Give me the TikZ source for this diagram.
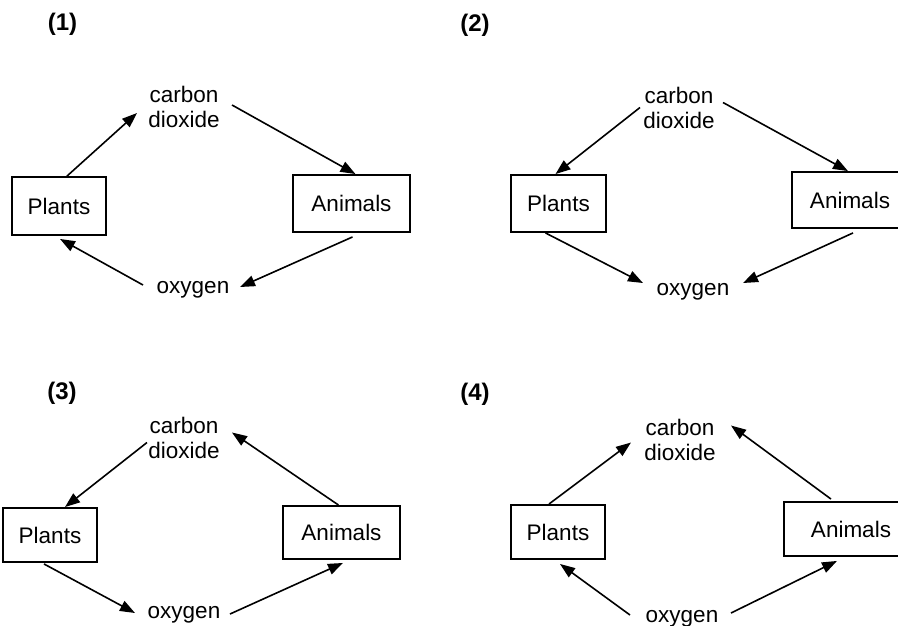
\documentclass[tikz,border=0pt]{standalone}
\usepackage{fontspec}
\setmainfont{Liberation Sans}
\usetikzlibrary{arrows.meta}
\begin{document}
\begin{tikzpicture}[x=1pt,y=-1pt,
  box/.style={draw,line width=1.9pt,inner sep=0pt,font=\fontsize{22.5}{25}\selectfont},
  lbl/.style={font=\fontsize{24}{28}\selectfont\bfseries},
  txt/.style={font=\fontsize{22.5}{25}\selectfont,align=center,inner sep=0pt},
  arr/.style={-{Triangle[length=15pt,width=11pt]},line width=1.6pt}]
\useasboundingbox (0,0) rectangle (898,625);
% (1)
\node[lbl] (L1) at (62.5,24.5) {(1)};
\node[txt] (C1) at (184,107) {carbon\\dioxide};
\node[box,minimum width=94pt,minimum height=58pt] (P1) at (59,206) {Plants};
\node[box,minimum width=117pt,minimum height=57pt] (A1) at (351.5,203.5) {Animals};
\node[txt,anchor=base] (O1) at (193,293) {oxygen};
\draw[arr] ([shift={(8,0)}]P1.north) -- ([shift={(-47,6)}]C1.center);
\draw[arr] ([shift={(48,-2)}]C1.center) -- ([shift={(4,0)}]A1.north);
\draw[arr] ([shift={(1,4)}]A1.south) -- ([shift={(47,-6)}]O1.base);
\draw[arr] ([shift={(-50,-8)}]O1.base) -- ([shift={(1,3)}]P1.south);
% (2)
\node[lbl] (L2) at (475,25) {(2)};
\node[txt] (C2) at (679,107.5) {carbon\\dioxide};
\node[box,minimum width=95pt,minimum height=57pt] (P2) at (558.5,203.5) {Plants};
\node[box,minimum width=116pt,minimum height=56pt] (A2) at (850,200) {Animals};
\node[txt,anchor=base] (O2) at (693,295) {oxygen};
\draw[arr] ([shift={(-39,0)}]C2.center) -- ([shift={(-3,0)}]P2.north);
\draw[arr] ([shift={(44,-5)}]C2.center) -- ([shift={(-2,0)}]A2.north);
\draw[arr] ([shift={(-13,0)}]P2.south) -- ([shift={(-50,-12)}]O2.base);
\draw[arr] ([shift={(3,4)}]A2.south) -- ([shift={(50,-12)}]O2.base);
% (3)
\node[lbl] (L3) at (62,393) {(3)};
\node[txt] (C3) at (184,437.5) {carbon\\dioxide};
\node[box,minimum width=94pt,minimum height=54pt] (P3) at (50,535) {Plants};
\node[box,minimum width=117pt,minimum height=53pt] (A3) at (341.5,532.5) {Animals};
\node[txt,anchor=base] (O3) at (184,618) {oxygen};
\draw[arr] ([shift={(-37,5)}]C3.center) -- ([shift={(15,0)}]P3.north);
\draw[arr] ([shift={(-3,0)}]A3.north) -- ([shift={(48,-5)}]C3.center);
\draw[arr] ([shift={(-6,1)}]P3.south) -- ([shift={(-49,-5)}]O3.base);
\draw[arr] ([shift={(46,-4)}]O3.base) -- ([shift={(1.5,3)}]A3.south);
% (4)
\node[lbl] (L4) at (475,394) {(4)};
\node[txt] (C4) at (680,439.5) {carbon\\dioxide};
\node[box,minimum width=94pt,minimum height=54pt] (P4) at (558,532) {Plants};
\node[box,minimum width=134pt,minimum height=54pt] (A4) at (851,529) {Animals};
\node[txt,anchor=base] (O4) at (682,622) {oxygen};
\draw[arr] ([shift={(-9,0)}]P4.north) -- ([shift={(-49,3)}]C4.center);
\draw[arr] ([shift={(-20,-2)}]A4.north) -- ([shift={(51,-14)}]C4.center);
\draw[arr] ([shift={(-52,-7)}]O4.base) -- ([shift={(2,4)}]P4.south);
\draw[arr] ([shift={(49,-9)}]O4.base) -- ([shift={(-14,4)}]A4.south);
\end{tikzpicture}
\end{document}
